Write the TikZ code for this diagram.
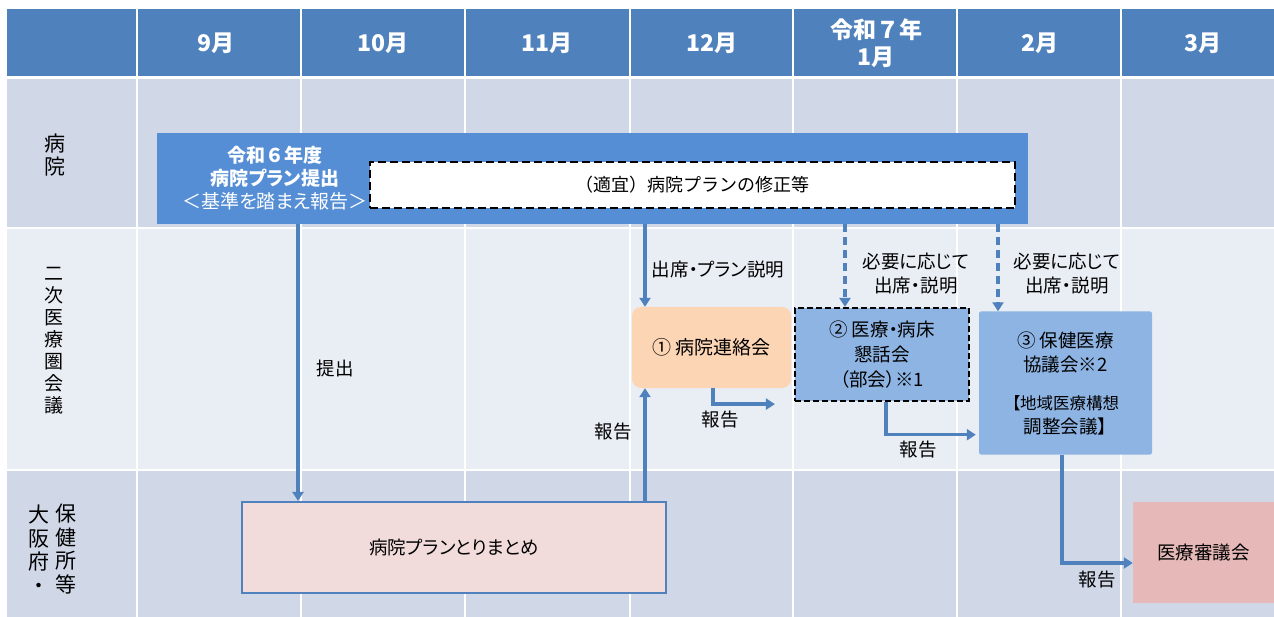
\documentclass[tikz,border=0pt]{standalone}
\usepackage{fontspec}
\setmainfont{Noto Sans CJK JP}
\newfontfamily\propfont[RawFeature=+palt]{Noto Sans CJK JP}
\usetikzlibrary{arrows.meta}

\begin{document}
\begin{tikzpicture}[x=1pt,y=-1pt,
    flow/.style={draw=plan_line,line width=3.4pt,-{Triangle[length=9pt,width=11pt]}},
    flowdash/.style={flow,dash pattern=on 8pt off 5pt},
    lbl/.style={font=\fontsize{18.5}{24}\selectfont\propfont,align=center},
    monthtxt/.style={font=\fontsize{23}{27}\selectfont\bfseries,text=white,align=center},
    rowtxt/.style={font=\fontsize{21}{23.5}\selectfont,align=center}]
\definecolor{plan_hdr}{RGB}{79,129,189}
\definecolor{plan_line}{RGB}{79,129,189}
\definecolor{plan_rowdark}{RGB}{208,216,232}
\definecolor{plan_rowlight}{RGB}{233,237,244}
\definecolor{plan_bigbox}{RGB}{85,142,213}
\definecolor{plan_meet}{RGB}{142,180,227}
\definecolor{plan_peach}{RGB}{252,213,181}
\definecolor{plan_pink}{RGB}{242,220,219}
\definecolor{plan_rose}{RGB}{230,185,184}

\fill[white] (0,0) rectangle (1274,617);
\useasboundingbox (0,0) rectangle (1274,617);

% table
\fill[plan_hdr] (7,9) rectangle (1274,76);
\fill[plan_rowdark] (7,79) rectangle (1274,227);
\fill[plan_rowlight] (7,229) rectangle (1274,469);
\fill[plan_rowdark] (7,471) rectangle (1274,617);
\foreach \x in {137,301,465,630,793,957,1121}
    \draw[white,line width=2.5pt] (\x,9) to (\x,617);

\node[monthtxt] (m9) at (216,43) {9月};
\node[monthtxt] (m10) at (383,43) {10月};
\node[monthtxt] (m11) at (547,43) {11月};
\node[monthtxt] (m12) at (712,43) {12月};
\node[monthtxt] (m1) at (876,43) {令和７年\\1月};
\node[monthtxt] (m2) at (1040,43) {2月};
\node[monthtxt] (m3) at (1203,43) {3月};

\node[rowtxt] (rowhosp) at (55,155) {病\\院};
\node[rowtxt,font=\fontsize{19}{22}\selectfont] (rowmtg) at (54,341) {二\\次\\医\\療\\圏\\会\\議};
\node[rowtxt] (rowprefa) at (39,549) {大\\阪\\府\\・};
\node[rowtxt] (rowprefb) at (66,549) {保\\健\\所\\等};

% boxes
\node[shape=rectangle,fill=plan_bigbox,minimum width=871,minimum height=91] (planbox) at (592.5,178.5) {};
\node[lbl,text=white,font=\fontsize{19}{23}\selectfont] (plantitle) at (275,178) {{\bfseries 令和６年度}\\{\bfseries\propfont 病院プラン提出}\\\propfont ＜基準を踏まえ報告＞};
\node[shape=rectangle,draw,fill=white,line width=2.4pt,dash pattern=on 8pt off 4pt,minimum width=645,minimum height=46,lbl,font=\fontsize{18}{24}\selectfont] (revise) at (692.5,185) {（適宜）病院プランの修正等};

\node[shape=rectangle,draw=plan_line,fill=plan_pink,line width=2.2pt,minimum width=424,minimum height=91,lbl] (summary) at (454,547.5) {病院プランとりまとめ};
\node[shape=rectangle,rounded corners=9pt,fill=plan_peach,minimum width=159,minimum height=81,lbl,font=\fontsize{19}{24}\selectfont\propfont] (mtg1) at (711.5,347.5) {① 病院連絡会};
\node[shape=rectangle,draw,fill=plan_meet,line width=2.2pt,dash pattern=on 6pt off 3pt,minimum width=174,minimum height=93,lbl,font=\fontsize{18.5}{25}\selectfont\propfont] (mtg2) at (882,354.5) {② 医療・病床\\懇話会\\（部会）※1};
\node[shape=rectangle,rounded corners=2pt,fill=plan_meet,minimum width=173,minimum height=143,lbl] (mtg3) at (1065.5,383) {③ 保健医療\\協議会※2\\[14pt]\fontsize{16.5}{22}\selectfont【地域医療構想\\調整会議】};
\node[shape=rectangle,fill=plan_rose,minimum width=141,minimum height=101,lbl] (council) at (1203.5,552.5) {医療審議会};

% arrows
\draw[flow] ([xshift=-294.5pt]planbox.south) to ([xshift=-156pt]summary.north);
\draw[flow] ([xshift=191pt]summary.north) to ([xshift=-66.5pt]mtg1.south);
\draw[flow] ([xshift=52.5pt]planbox.south) to ([xshift=-66.5pt]mtg1.north);
\draw[flowdash] ([xshift=252.5pt]planbox.south) to ([xshift=-37pt]mtg2.north);
\draw[flowdash] ([xshift=405.5pt]planbox.south) to ([xshift=-67.5pt]mtg3.north);
\draw[flow] ([xshift=1.5pt]mtg1.south) |- ([xshift=-19pt,yshift=-2pt]mtg2.south west);
\draw[flow] ([xshift=4pt]mtg2.south) |- ([xshift=-3pt,yshift=20pt]mtg3.south west);
\draw[flow] ([xshift=-3.5pt]mtg3.south) |- ([yshift=-10.5pt]council.west);

\node[lbl] (lblsubmit) at (335,368) {提出};
\node[lbl] (lblattend) at (718,270) {出席・プラン説明};
\node[lbl] (lblneed2) at (916,274) {必要に応じて\\出席・説明};
\node[lbl] (lblneed3) at (1067,274) {必要に応じて\\出席・説明};
\node[lbl] (lblrep1) at (613,432) {報告};
\node[lbl] (lblrep2) at (720,420) {報告};
\node[lbl] (lblrep3) at (918,450) {報告};
\node[lbl] (lblrep4) at (1097,580) {報告};
\end{tikzpicture}
\end{document}
